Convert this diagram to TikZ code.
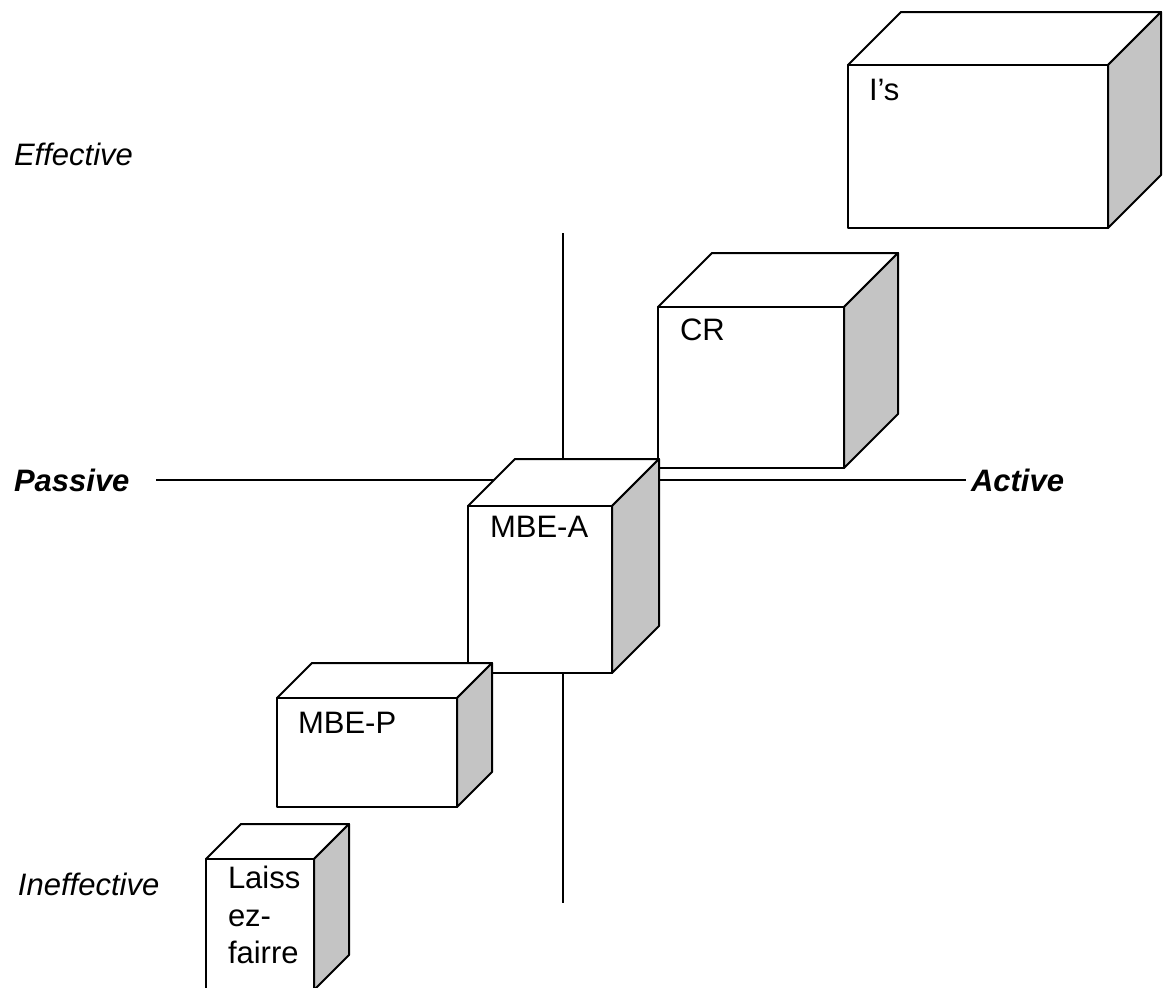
\documentclass[tikz,border=0pt]{standalone}
\usepackage{fontspec}
\setmainfont{Liberation Sans}
\usepackage{tikz}
\definecolor{facegray}{gray}{0.77}

\newcommand{\cubebox}[5]{%
	\draw[fill=white] (#1,#2) -- (#1+#5,#2-#5) -- (#3+#5,#2-#5) -- (#3,#2) -- cycle;
	\draw[fill=facegray] (#3,#2) -- (#3+#5,#2-#5) -- (#3+#5,#4-#5) -- (#3,#4) -- cycle;
	\draw[fill=white] (#1,#2) rectangle (#3,#4);
}

\begin{document}
\begin{tikzpicture}[x=0.5pt, y=-0.5pt, line width=1pt, line join=round,
		lbl/.style={anchor=base west, inner sep=0pt, font=\fontsize{15.5}{18}\selectfont}]
			\useasboundingbox (0,0) rectangle (1168,987);
			\draw (156,480) -- (966,480);
			\draw (563,233) -- (563,903);
			\cubebox{848}{65}{1108}{228}{53}
			\cubebox{658}{307}{844}{468}{54}
			\cubebox{468}{506}{612}{673}{47}
			\cubebox{277}{698}{457}{807}{35}
			\cubebox{206}{859}{314}{990}{35}
			\node[lbl] (eff) at (13,165) {\itshape Effective};
			\node[lbl] (ineff) at (17,895) {\itshape Ineffective};
			\node[lbl] (pas) at (13,491) {\bfseries\itshape Passive};
			\node[lbl] (act) at (970,491) {\bfseries\itshape Active};
			\node[lbl] (is) at (868,100) {I’s};
			\node[lbl] (cr) at (679,340) {CR};
			\node[lbl] (mbea) at (489,537) {MBE-A};
			\node[lbl] (mbep) at (297,733) {MBE-P};
			\node[lbl] (lz1) at (227,888) {Laiss};
			\node[lbl] (lz2) at (227,926) {ez-};
			\node[lbl] (lz3) at (227,963) {fairre};
		\end{tikzpicture}
\end{document}
